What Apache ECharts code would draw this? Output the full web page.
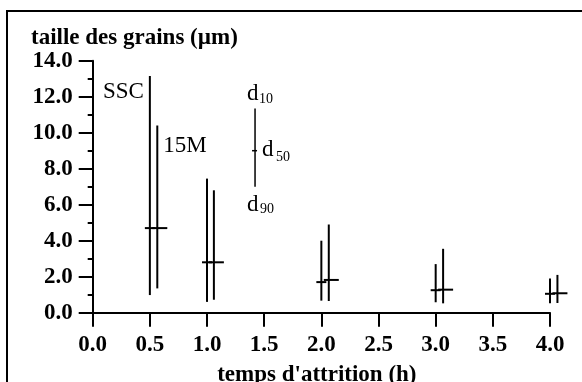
<!DOCTYPE html>
<html>
<head>
<meta charset="utf-8">
<script src="https://cdn.jsdelivr.net/npm/echarts@6/dist/echarts.min.js"></script>
<style>
  html, body { margin: 0; padding: 0; background: #fff; }
  #chart { width: 582px; height: 382px; }
</style>
</head>
<body>
<div id="chart"></div>
<script>
// temps d'attrition (h)
const timesSSC = [0.5, 1.0, 2.0, 3.0, 4.0];
const times15M = [0.565, 1.06, 2.065, 3.065, 4.065];

// taille des grains (µm) : d10 (haut), d50, d90 (bas)
const sscD10 = [13.15, 7.45, 4.0, 2.7, 1.9];
const sscD50 = [4.7, 2.8, 1.7, 1.25, 1.05];
const sscD90 = [0.98, 0.6, 0.67, 0.58, 0.52];

const m15D10 = [10.4, 6.8, 4.9, 3.55, 2.1];
const m15D50 = [4.7, 2.8, 1.82, 1.28, 1.08];
const m15D90 = [1.35, 0.72, 0.65, 0.52, 0.54];

// barre explicative d10 / d50 / d90
const keyBar = [[1.42, 11.35, 9.0, 7.0]];

const FONT = 'Liberation Serif';

function rows(t, hi, mid, lo) {
    return t.map((v, i) => [v, hi[i], mid[i], lo[i]]);
}

function txt(text, x, y, size, align) {
    return {
        type: 'text',
        style: {
            text: text, x: x, y: y,
            fontFamily: FONT, fontSize: size,
            fill: '#000', align: align || 'left', verticalAlign: 'middle'
        }
    };
}

function rangeRenderer(leftW, rightW, width, label) {
    return function (params, api) {
        const x = api.value(0);
        const top = api.coord([x, api.value(1)]);
        const mid = api.coord([x, api.value(2)]);
        const bot = api.coord([x, api.value(3)]);
        const children = [
            { type: 'line', shape: { x1: top[0], y1: top[1], x2: bot[0], y2: bot[1] },
              style: { stroke: '#000', lineWidth: width } },
            { type: 'line', shape: { x1: mid[0] - leftW, y1: mid[1], x2: mid[0] + rightW, y2: mid[1] },
              style: { stroke: '#000', lineWidth: width } }
        ];
        if (label && params.dataIndex === 0) {
            label(children, top, mid, bot);
        }
        return { type: 'group', children: children };
    };
}

const chart = echarts.init(document.getElementById('chart'));

const option = {
    backgroundColor: '#fff',
    animation: false,
    title: {
        text: 'taille des grains (µm)',
        left: 31,
        top: 27,
        padding: 0,
        textStyle: { fontFamily: FONT, fontWeight: 'bold', fontSize: 23, color: '#000' }
    },
    graphic: [
        {
            type: 'rect',
            silent: true,
            shape: { x: 7, y: 11, width: 640, height: 440 },
            style: { fill: 'none', stroke: '#000', lineWidth: 2 }
        }
    ],
    grid: { left: 92.7, right: 32, top: 60.7, bottom: 69.3, outerBoundsMode: 'none', containLabel: false },
    xAxis: {
        type: 'value',
        min: 0,
        max: 4,
        interval: 0.5,
        name: "temps d'attrition (h)",
        nameLocation: 'middle',
        nameGap: 51,
        nameTextStyle: { fontFamily: FONT, fontWeight: 'bold', fontSize: 23, color: '#000', padding: [0, 9, 0, 0] },
        axisLine: { lineStyle: { color: '#000', width: 2 } },
        axisTick: { length: 14, lineStyle: { color: '#000', width: 2 } },
        axisLabel: {
            margin: 21,
            fontFamily: FONT, fontWeight: 'bold', fontSize: 23, color: '#000',
            formatter: v => v.toFixed(1)
        },
        splitLine: { show: false }
    },
    yAxis: {
        type: 'value',
        min: 0,
        max: 14,
        interval: 2,
        axisLine: { show: true, lineStyle: { color: '#000', width: 2 } },
        axisTick: { show: true, length: 14, lineStyle: { color: '#000', width: 2 } },
        minorTick: { show: true, splitNumber: 2, length: 5, lineStyle: { color: '#000', width: 2 } },
        axisLabel: {
            margin: 20,
            fontFamily: FONT, fontWeight: 'bold', fontSize: 23, color: '#000',
            formatter: v => v.toFixed(1)
        },
        splitLine: { show: false }
    },
    series: [
        {
            name: 'SSC',
            type: 'custom',
            clip: false,
            data: rows(timesSSC, sscD10, sscD50, sscD90),
            renderItem: rangeRenderer(5, 5, 2, (ch, top) => {
                ch.push(txt('SSC', top[0] - 6, top[1] + 16, 23, 'right'));
            })
        },
        {
            name: '15M',
            type: 'custom',
            clip: false,
            data: rows(times15M, m15D10, m15D50, m15D90),
            renderItem: rangeRenderer(5, 10, 2, (ch, top) => {
                ch.push(txt('15M', top[0] + 6, top[1] + 20.5, 23, 'left'));
            })
        },
        {
            name: 'clé',
            type: 'custom',
            clip: false,
            data: keyBar,
            renderItem: rangeRenderer(3, 2, 1.5, (ch, top, mid, bot) => {
                ch.push(txt('d', top[0] - 8, top[1] - 14, 23));
                ch.push(txt('10', top[0] + 4, top[1] - 9, 14));
                ch.push(txt('d', mid[0] + 7, mid[1] - 1, 23));
                ch.push(txt('50', mid[0] + 21, mid[1] + 7, 14));
                ch.push(txt('d', bot[0] - 8, bot[1] + 18.5, 23));
                ch.push(txt('90', bot[0] + 5, bot[1] + 23, 14));
            })
        }
    ]
};

chart.setOption(option);
</script>
</body>
</html>
